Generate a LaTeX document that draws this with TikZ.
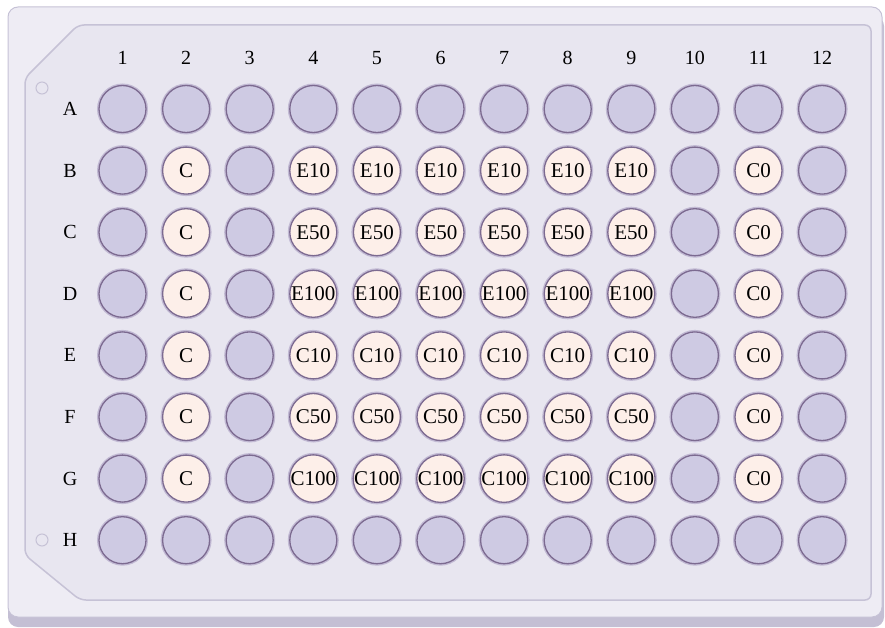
\documentclass[tikz,border=0pt]{standalone}
\usepackage{fontspec}
\setmainfont{Liberation Serif}
\definecolor{plateedge}{RGB}{198,194,214}
\definecolor{plateshadow}{RGB}{196,191,212}
\definecolor{plateouter}{RGB}{238,236,244}
\definecolor{platetop}{RGB}{232,230,240}
\definecolor{wellempty}{RGB}{206,202,227}
\definecolor{wellfull}{RGB}{253,239,233}
\definecolor{wellrim}{RGB}{124,106,144}
\definecolor{wellglow}{RGB}{194,186,212}

\begin{document}
\begin{tikzpicture}[
  x=1pt,y=-1pt,
  font=\fontsize{20}{20}\selectfont,
  well/.style={circle,minimum size=47pt,inner sep=0pt,fill=wellempty,
    draw=wellrim,line width=1.3pt,preaction={draw=wellglow,line width=4pt},
    font=\fontsize{21}{21}\selectfont},
  sample/.style={well,fill=wellfull},
  rimlabel/.style={inner sep=0pt}
]
  \useasboundingbox (0,0) rectangle (885,628);
  % plate body
  \fill[plateshadow,rounded corners=10pt] (8,16) rectangle (884,627);
  \draw[fill=plateouter,draw=plateedge,line width=1pt,rounded corners=10pt] (8,7) rectangle (882,617);
  \draw[fill=platetop,draw=plateedge,line width=1.5pt,rounded corners=6pt]
    (78,25) -- (871,25) -- (871,600) -- (80,600) -- (25,555) -- (25,78) -- cycle;
  \draw[plateedge,line width=1pt] (42,88) circle (6);
  \draw[plateedge,line width=1pt] (42,540) circle (6);
  % labels
  \foreach \c in {1,...,12}
    \node[rimlabel] (col\c) at ({122.5+63.6*(\c-1)},58) {\c};
  \foreach \r [count=\i from 0] in {A,...,H}
    \node[rimlabel] (row\r) at (70,{109+61.6*\i}) {\r};
  % empty rows
  \foreach \r/\i in {A/0,H/7}
    \foreach \c in {1,...,12}
      \node[well] (\r\c) at ({122.5+63.6*(\c-1)},{109+61.6*\i}) {};
  % treated rows
  \foreach \r/\t [count=\i] in {B/E10,C/E50,D/E100,E/C10,F/C50,G/C100} {
    \foreach \c in {1,3,10,12}
      \node[well] (\r\c) at ({122.5+63.6*(\c-1)},{109+61.6*\i}) {};
    \node[sample] (\r2) at ({122.5+63.6},{109+61.6*\i}) {C};
    \foreach \c in {4,...,9}
      \node[sample] (\r\c) at ({122.5+63.6*(\c-1)},{109+61.6*\i}) {\t};
    \node[sample] (\r11) at ({122.5+63.6*10},{109+61.6*\i}) {C0};
  }
\end{tikzpicture}
\end{document}
